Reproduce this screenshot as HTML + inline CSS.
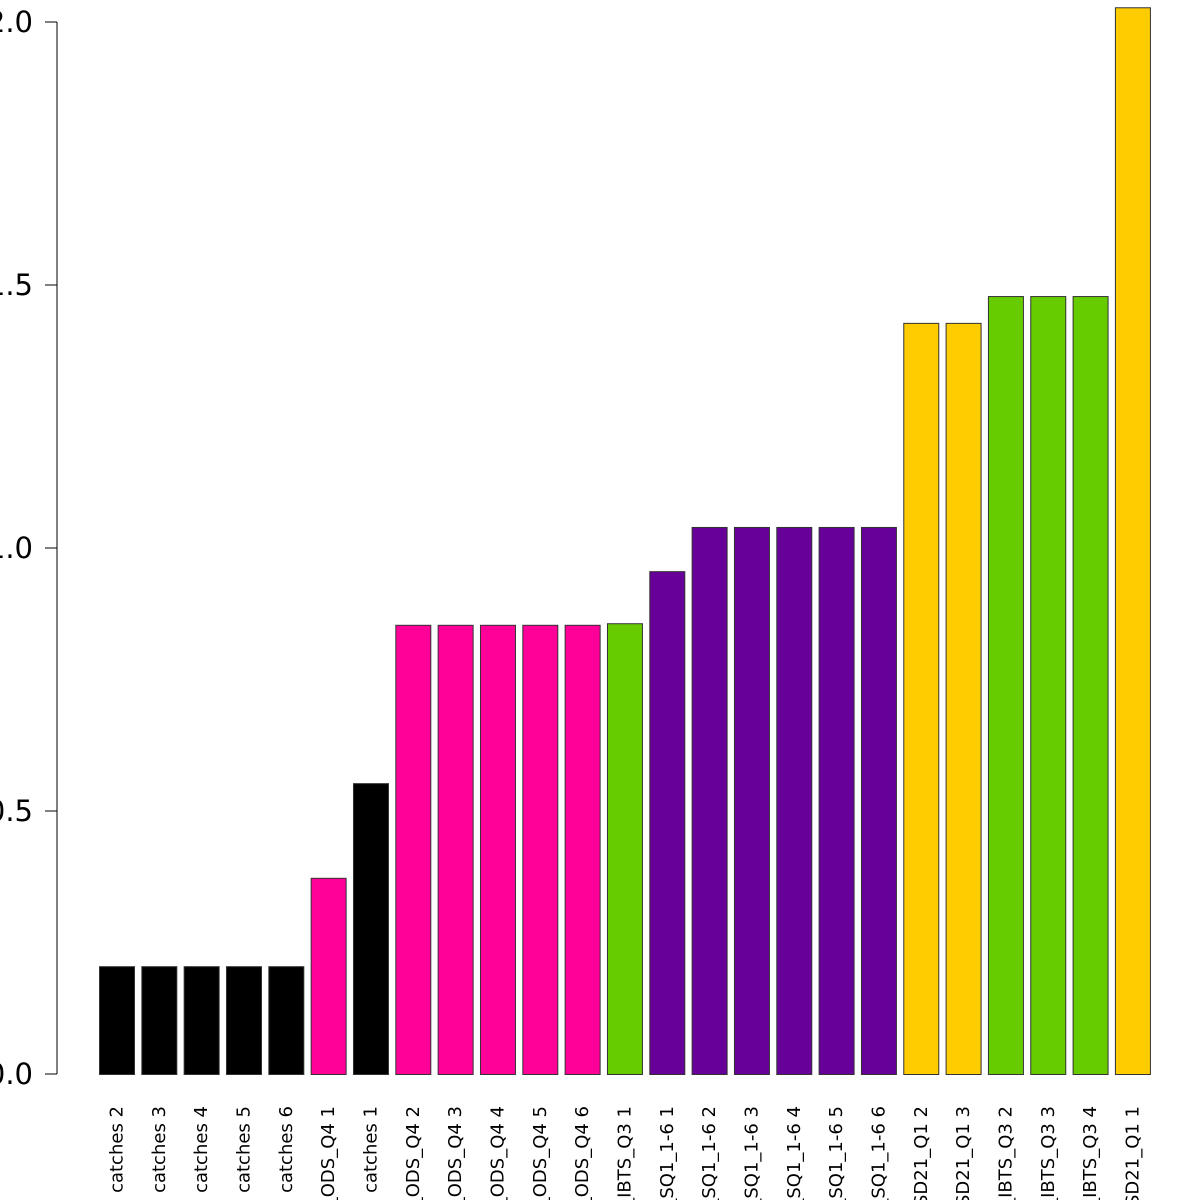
<!DOCTYPE html>
<html><head><meta charset="utf-8"><style>
html,body{margin:0;padding:0;background:#fff;width:1200px;height:1200px;overflow:hidden}
svg{display:block}
text{font-family:"DejaVu Sans","Liberation Sans",sans-serif}
</style></head><body>
<svg id="chart" width="1200" height="1200" viewBox="0 0 1200 1200" xmlns="http://www.w3.org/2000/svg">
<g id="axis"></g>
<g id="bars"></g>
<g id="labels"></g>
</svg>
<script>
const categories = ["catches 2","catches 3","catches 4","catches 5","catches 6","BITS_ODS_Q4 1","catches 1","BITS_ODS_Q4 2","BITS_ODS_Q4 3","BITS_ODS_Q4 4","BITS_ODS_Q4 5","BITS_ODS_Q4 6","NS_IBTS_Q3 1","IBTS_SQ1_1-6 1","IBTS_SQ1_1-6 2","IBTS_SQ1_1-6 3","IBTS_SQ1_1-6 4","IBTS_SQ1_1-6 5","IBTS_SQ1_1-6 6","BITS_SD21_Q1 2","BITS_SD21_Q1 3","NS_IBTS_Q3 2","NS_IBTS_Q3 3","NS_IBTS_Q3 4","BITS_SD21_Q1 1"];
const values = [0.205,0.205,0.205,0.205,0.205,0.373,0.553,0.854,0.854,0.854,0.854,0.854,0.857,0.956,1.040,1.040,1.040,1.040,1.040,1.428,1.428,1.479,1.479,1.479,2.028];
const groups = ["catch","catch","catch","catch","catch","ods","catch","ods","ods","ods","ods","ods","ibts","sq1","sq1","sq1","sq1","sq1","sq1","sd21","sd21","ibts","ibts","ibts","sd21"];
const colors = {catch:"#000000",ods:"#FF0099",ibts:"#66CC00",sq1:"#660099",sd21:"#FFCC00"};
const yTicks = [0,0.5,1,1.5,2];
const yTickLabels = ["0.0","0.5","1.0","1.5","2.0"];

const NS="http://www.w3.org/2000/svg";
const y = v => 1074 - v*526;
const x = i => 99 + i*42.33;
const bw = 35;
function mk(tag, attrs, parent){const e=document.createElementNS(NS,tag);for(const k in attrs)e.setAttribute(k,attrs[k]);parent.appendChild(e);return e;}
const axis=document.getElementById('axis');
mk('line',{x1:57,x2:57,y1:y(0),y2:y(2),stroke:'#000','stroke-width':1},axis);
yTicks.forEach((t,i)=>{
  const tk=mk('line',{x1:45,x2:57,y1:y(t),y2:y(t),stroke:'#000','stroke-width':1},axis);
  
  
  const tx=mk('text',{x:33,y:y(t)+10,'text-anchor':'end','font-size':29},axis);
  tx.textContent=yTickLabels[i];
  
  
});
const bars=document.getElementById('bars'), labels=document.getElementById('labels');
values.forEach((v,i)=>{
  const r=mk('rect',{x:x(i)+0.5,y:y(v)+0.5,width:bw,height:y(0)-y(v),fill:colors[groups[i]],stroke:'#333','stroke-width':1},bars);
  
  
  const cx=x(i)+bw/2+6;
  const t=mk('text',{x:cx,y:1106,transform:`rotate(-90 ${cx} 1106)`,'text-anchor':'end','font-size':18},labels);
  t.textContent=categories[i];
  
  
});
</script>
</body></html>
